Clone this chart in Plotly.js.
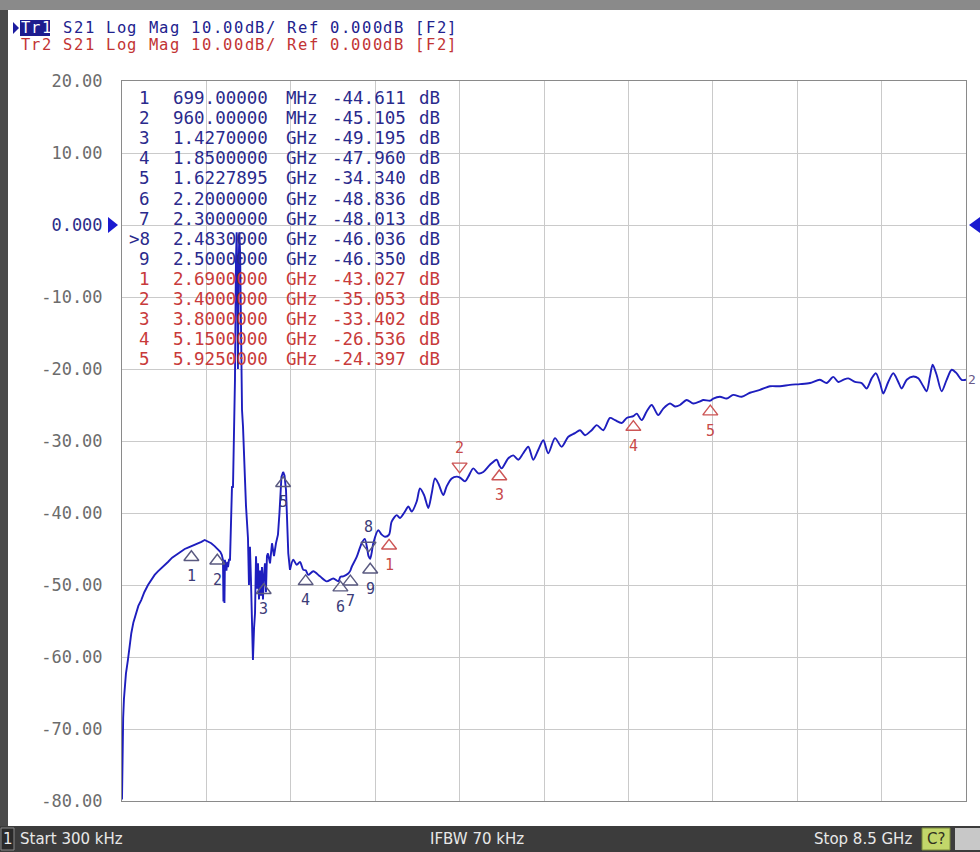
<!DOCTYPE html>
<html><head><meta charset="utf-8">
<script src="https://cdn.plot.ly/plotly-3.0.1.min.js"></script>
<style>html,body{margin:0;padding:0;background:#fff;overflow:hidden}#chart{width:980px;height:852px}</style>
</head><body><div id="chart"></div>
<script>
// ---- data ----
const freqGHz = [0.0003,0.005,0.012,0.020,0.027,0.040,0.060,0.075,0.094,0.115,0.144,0.165,0.194,0.225,0.262,0.295,0.329,0.362,0.396,0.430,0.463,0.505,0.547,0.590,0.632,0.665,0.699,0.733,0.766,0.800,0.833,0.866,0.899,0.933,0.967,0.990,1.005,1.017,1.022,1.027,1.032,1.037,1.042,1.052,1.060,1.068,1.078,1.088,1.098,1.108,1.118,1.128,1.138,1.148,1.155,1.162,1.168,1.175,1.182,1.190,1.198,1.209,1.219,1.229,1.239,1.249,1.259,1.269,1.279,1.289,1.299,1.309,1.319,1.330,1.340,1.350,1.360,1.370,1.380,1.390,1.400,1.410,1.420,1.427,1.440,1.450,1.460,1.470,1.491,1.511,1.531,1.551,1.571,1.586,1.606,1.623,1.637,1.652,1.662,1.675,1.692,1.725,1.760,1.793,1.826,1.850,1.876,1.927,1.994,2.062,2.128,2.179,2.200,2.229,2.279,2.300,2.313,2.364,2.414,2.445,2.470,2.483,2.500,2.515,2.531,2.581,2.616,2.649,2.690,2.716,2.767,2.800,2.850,2.884,2.918,2.968,3.001,3.042,3.085,3.119,3.152,3.186,3.236,3.270,3.321,3.371,3.400,3.455,3.488,3.538,3.588,3.639,3.706,3.774,3.800,3.824,3.891,3.941,3.991,4.041,4.092,4.142,4.192,4.243,4.293,4.361,4.428,4.495,4.562,4.613,4.663,4.730,4.781,4.847,4.915,4.965,5.033,5.083,5.150,5.184,5.234,5.284,5.335,5.401,5.451,5.519,5.569,5.620,5.687,5.754,5.821,5.854,5.925,5.955,6.022,6.090,6.156,6.241,6.324,6.425,6.526,6.627,6.727,6.828,6.929,7.029,7.097,7.163,7.214,7.264,7.314,7.382,7.449,7.500,7.550,7.593,7.634,7.667,7.717,7.768,7.818,7.852,7.903,7.969,8.019,8.070,8.104,8.137,8.164,8.204,8.255,8.305,8.356,8.406,8.456,8.500];
const s21dB = [-79.8,-71.0,-68.5,-65.8,-64.1,-62.3,-60.4,-58.5,-56.7,-55.2,-53.9,-52.9,-52.1,-51.0,-50.0,-49.3,-48.6,-48.1,-47.7,-47.2,-46.8,-46.2,-45.8,-45.3,-45.0,-44.8,-44.6,-44.5,-44.2,-44.0,-43.75,-44.0,-44.2,-44.6,-45.1,-45.4,-45.8,-46.5,-52.3,-47.0,-52.5,-46.5,-47.5,-48.0,-46.8,-47.5,-46.5,-46.5,-41.0,-36.3,-36.5,-29.4,-21.5,-5.0,-1.0,-8.0,-20.0,-6.0,-1.0,-4.0,-15.0,-25.7,-28.0,-33.0,-35.4,-39.0,-41.0,-43.5,-50.0,-44.7,-49.3,-55.0,-60.4,-56.0,-53.9,-46.0,-50.5,-47.0,-52.0,-48.0,-51.5,-47.5,-52.0,-49.2,-47.0,-51.0,-46.0,-45.6,-47.0,-44.2,-46.0,-44.2,-43.0,-40.0,-35.0,-34.3,-34.8,-36.8,-41.0,-45.6,-47.9,-46.5,-47.2,-46.8,-47.9,-47.96,-48.6,-48.1,-48.8,-49.5,-49.1,-49.5,-48.84,-48.8,-48.4,-48.0,-47.5,-46.1,-44.2,-43.6,-45.0,-46.0,-46.35,-45.5,-44.2,-42.4,-43.0,-43.3,-43.0,-41.2,-40.3,-40.7,-39.8,-39.1,-39.8,-38.4,-36.6,-37.5,-39.3,-37.3,-35.2,-35.9,-37.5,-36.3,-35.2,-34.95,-35.05,-35.6,-34.95,-33.8,-34.5,-34.3,-33.3,-32.6,-33.4,-33.8,-32.4,-32.0,-32.6,-31.7,-30.8,-32.6,-31.25,-29.9,-31.7,-29.6,-30.8,-29.4,-28.9,-28.5,-29.2,-28.5,-27.8,-28.5,-26.8,-27.1,-27.5,-26.8,-26.54,-26.2,-27.1,-25.9,-25.0,-26.4,-25.5,-24.8,-25.2,-25.0,-24.3,-24.8,-24.5,-24.3,-24.4,-24.1,-23.85,-24.1,-23.6,-23.85,-23.3,-22.9,-22.4,-22.4,-22.2,-22.1,-21.95,-21.5,-21.95,-21.1,-21.8,-21.5,-21.3,-21.8,-21.95,-22.7,-21.3,-20.6,-21.95,-23.4,-21.8,-20.6,-21.8,-22.7,-21.5,-21.05,-21.3,-22.4,-23.1,-21.05,-19.4,-20.8,-23.1,-21.5,-20.1,-20.6,-21.5,-21.5];

const mk1Label = ['1','2','3','4','5','6','7','8','9'];
const mk1Freq  = [0.699, 0.960, 1.427, 1.850, 1.6227895, 2.200, 2.300, 2.483, 2.500];
const mk1Val   = [-44.611, -45.105, -49.195, -47.960, -34.340, -48.836, -48.013, -46.036, -46.350];
const mk2Label = ['1','2','3','4','5'];
const mk2Freq  = [2.690, 3.400, 3.800, 5.150, 5.925];
const mk2Val   = [-43.027, -35.053, -33.402, -26.536, -24.397];
const active1 = 7, active2 = 1;          // active markers (>8 and red 2)
const above1 = [7], above2 = [1];        // markers whose flag sits above the trace

const yTickVals = [20,10,0,-10,-20,-30,-40,-50,-60,-70,-80];
const yTickText = ['20.00','10.00','0.000','-10.00','-20.00','-30.00','-40.00','-50.00','-60.00','-70.00','-80.00'];
const startGHz = 0.0003, stopGHz = 8.5, refLevel = 0, nDiv = 10;
const header1 = 'Tr1 S21 Log Mag 10.00dB/ Ref 0.000dB [F2]';
const header2 = 'Tr2 S21 Log Mag 10.00dB/ Ref 0.000dB [F2]';
const statusStart = 'Start 300 kHz', statusIfbw = 'IFBW 70 kHz', statusStop = 'Stop 8.5 GHz';

// ---- layout geometry (pixels) ----
const W = 980, H = 852, L = 122, R = 966, T = 81, B = 801;
const pw = R - L, ph = B - T, pxPerDb = ph / 100;
const PX = p => (p - L) / pw, PY = p => (B - p) / ph;
const NAVY = '#2a2a8c', RED = '#c83a3a', MONO = 'DejaVu Sans Mono, monospace';
const TRACE = '#1e1ebe';

const xTicks = [];
for (let i = 0; i <= nDiv; i++) xTicks.push(startGHz + i * (stopGHz - startGHz) / nDiv);

// the spiky low band is drawn point to point, the rippled upper band smoothly
const split = freqGHz.findIndex(f => f >= 1.69);
const traces = [
  {x: freqGHz.slice(0, split + 1), y: s21dB.slice(0, split + 1), type: 'scatter', mode: 'lines',
   line: {color: TRACE, width: 1.9}, hoverinfo: 'skip'},
  {x: freqGHz.slice(split), y: s21dB.slice(split), type: 'scatter', mode: 'lines',
   line: {color: TRACE, width: 1.9, shape: 'spline', smoothing: 0.8}, hoverinfo: 'skip'}
];

// marker flags on the trace
const flagOff = 11;
function flagTrace(freqs, vals, aboveIdx, color) {
  const ys = vals.map((v, i) => aboveIdx.includes(i) ? v + flagOff / pxPerDb : v - flagOff / pxPerDb);
  const sym = vals.map((v, i) => aboveIdx.includes(i) ? 'triangle-down-open' : 'triangle-up-open');
  return {x: freqs, y: ys, type: 'scatter', mode: 'markers', cliponaxis: false, hoverinfo: 'skip',
    marker: {symbol: sym, size: 13, color: color, line: {width: 1.4, color: color}}};
}
traces.push(flagTrace(mk1Freq, mk1Val, above1, '#5a5a80'));
traces.push(flagTrace(mk2Freq, mk2Val, above2, '#cc5555'));

// bottom marker triangles
const botY = -80 - 9 / pxPerDb;
traces.push({x: mk1Freq, y: mk1Freq.map(() => botY), type: 'scatter', mode: 'markers', cliponaxis: false, hoverinfo: 'skip',
  marker: {symbol: mk1Freq.map((f, i) => i === active1 ? 'triangle-up' : 'triangle-up-open'), size: 14,
           color: mk1Freq.map((f, i) => i === active1 ? '#1414d8' : '#4a4aa8'), line: {width: 1.3, color: '#4a4aa8'}}});
traces.push({x: mk2Freq, y: mk2Freq.map(() => botY), type: 'scatter', mode: 'markers', cliponaxis: false, hoverinfo: 'skip',
  marker: {symbol: mk2Freq.map((f, i) => i === active2 ? 'triangle-up' : 'triangle-up-open'), size: 14,
           color: mk2Freq.map((f, i) => i === active2 ? '#e01818' : '#d06a6a'), line: {width: 1.3, color: '#d06a6a'}}});

const ann = [];
function flagLabels(labels, freqs, vals, aboveIdx, color) {
  labels.forEach((lab, i) => {
    const up = aboveIdx.includes(i);
    ann.push({x: freqs[i], y: vals[i], xref: 'x', yref: 'y', text: lab, showarrow: false,
      yshift: up ? 29 : -30, font: {family: MONO, size: 15, color: color}});
  });
}
flagLabels(mk1Label, mk1Freq, mk1Val, above1, '#3c3c78');
flagLabels(mk2Label, mk2Freq, mk2Val, above2, '#c84a4a');

// marker table
function fmtF(f) { return f < 1 ? [(f * 1000).toFixed(5), 'MHz'] : [f.toFixed(7), 'GHz']; }
const tblFont = 17.5, rowH = 20.1, row0 = 98;
let row = 0;
function tableRow(num, f, v, color, isActive) {
  const y = PY(row0 + rowH * row);
  const [fs, unit] = fmtF(f);
  const base = {xref: 'paper', yref: 'paper', y: y, yanchor: 'middle', showarrow: false, font: {family: MONO, size: tblFont, color: color}};
  ann.push(Object.assign({}, base, {x: PX(152), xanchor: 'right', text: (isActive ? '>' : '') + num}));
  ann.push(Object.assign({}, base, {x: PX(171), xanchor: 'left', text: fs}));
  ann.push(Object.assign({}, base, {x: PX(284), xanchor: 'left', text: unit}));
  ann.push(Object.assign({}, base, {x: PX(330), xanchor: 'left', text: v.toFixed(3)}));
  ann.push(Object.assign({}, base, {x: PX(417), xanchor: 'left', text: 'dB'}));
  row++;
}
mk1Label.forEach((n, i) => tableRow(n, mk1Freq[i], mk1Val[i], NAVY, i === active1));
mk2Label.forEach((n, i) => tableRow(n, mk2Freq[i], mk2Val[i], RED, false));

// header: characters laid on the instrument's fixed pitch
const pitch = 10.66;
function headerLine(str, x0, yc, colorFn) {
  for (let i = 0; i < str.length; i++) {
    if (str[i] === ' ') continue;
    ann.push({xref: 'paper', yref: 'paper', x: PX(x0 + i * pitch + pitch / 2), y: PY(yc), xanchor: 'center', yanchor: 'middle',
      showarrow: false, text: str[i], font: {family: MONO, size: 15.5, color: colorFn(i)}});
  }
}
headerLine(header1, 20, 28, i => i < 3 ? '#ffffff' : '#22228e');
headerLine(header2, 20, 45, i => '#c23434');

// status bar text
const sb = {xref: 'paper', yref: 'paper', y: PY(839), yanchor: 'middle', showarrow: false,
  font: {family: 'DejaVu Sans, sans-serif', size: 15, color: '#e8e8e8'}};
ann.push(Object.assign({}, sb, {x: PX(7.5), xanchor: 'center', text: '1'}));
ann.push(Object.assign({}, sb, {x: PX(18), xanchor: 'left', text: statusStart}));
ann.push(Object.assign({}, sb, {x: PX(428), xanchor: 'left', text: statusIfbw}));
ann.push(Object.assign({}, sb, {x: PX(812), xanchor: 'left', text: statusStop}));
ann.push(Object.assign({}, sb, {x: PX(936), xanchor: 'center', text: 'C?', font: Object.assign({}, sb.font, {color: '#303020'})}));

// trace end label
ann.push({xref: 'x', yref: 'y', x: freqGHz[freqGHz.length - 1], y: s21dB[s21dB.length - 1], xanchor: 'left', yanchor: 'middle',
  xshift: 0, showarrow: false, text: '2', font: {family: MONO, size: 13, color: '#6a5a8a'}});

const refPx = B - (refLevel + 80) * pxPerDb;
function tri(pts) { return 'M' + pts.map(p => PX(p[0]) + ',' + PY(p[1])).join('L') + 'Z'; }
const shapes = [
  {type: 'rect', xref: 'paper', yref: 'paper', x0: PX(0), x1: PX(W), y0: PY(826), y1: PY(H), fillcolor: '#3c3c3c', line: {width: 0}, layer: 'below'},
  {type: 'rect', xref: 'paper', yref: 'paper', x0: PX(1), x1: PX(14), y0: PY(828), y1: PY(850), fillcolor: '#2a2a2a', line: {width: 1, color: '#888'}},
  {type: 'rect', xref: 'paper', yref: 'paper', x0: PX(922), x1: PX(950), y0: PY(828), y1: PY(850), fillcolor: '#c2d66a', line: {width: 1, color: '#7a8a3a'}},
  {type: 'rect', xref: 'paper', yref: 'paper', x0: PX(955), x1: PX(W), y0: PY(828), y1: PY(850), fillcolor: '#c8c8c8', line: {width: 0}},
  {type: 'rect', xref: 'paper', yref: 'paper', x0: PX(0), x1: PX(8), y0: PY(0), y1: PY(826), fillcolor: '#4a4a4a', line: {width: 0}, layer: 'below'},
  {type: 'rect', xref: 'paper', yref: 'paper', x0: PX(0), x1: PX(W), y0: PY(0), y1: PY(10), fillcolor: '#8a8a8a', line: {width: 0}, layer: 'below'},
  {type: 'rect', xref: 'paper', yref: 'paper', x0: PX(20), x1: PX(50), y0: PY(20), y1: PY(36), fillcolor: '#1c1c8e', line: {width: 0}, layer: 'below'},
  {type: 'path', xref: 'paper', yref: 'paper', path: tri([[13, 22], [19, 28], [13, 34]]), fillcolor: '#1c1ca0', line: {width: 0}},
  {type: 'path', xref: 'paper', yref: 'paper', path: tri([[108, refPx - 8], [118, refPx], [108, refPx + 8]]), fillcolor: '#1a1ad0', line: {width: 0}},
  {type: 'path', xref: 'paper', yref: 'paper', path: tri([[980, refPx - 8], [969, refPx], [980, refPx + 8]]), fillcolor: '#1a1ad0', line: {width: 0}}
];

const layout = {
  width: W, height: H, margin: {l: L, r: W - R, t: T, b: H - B},
  paper_bgcolor: '#ffffff', plot_bgcolor: '#ffffff', showlegend: false,
  xaxis: {range: [startGHz, stopGHz], tickvals: xTicks, showticklabels: false, ticks: '', showgrid: true,
          gridcolor: '#cacaca', gridwidth: 1, zeroline: false, showline: true, mirror: true, linecolor: '#8a8a8a', linewidth: 1, fixedrange: true},
  yaxis: {range: [-80, 20], tickvals: yTickVals,
          ticktext: yTickText.map((t, i) => yTickVals[i] === refLevel ? '<span style="color:#2c2c8a">' + t + '</span>' : t),
          ticks: 'outside', ticklen: 15, tickcolor: 'rgba(0,0,0,0)', showgrid: true, gridcolor: '#cacaca', zeroline: false,
          showline: true, mirror: true, linecolor: '#8a8a8a', linewidth: 1, fixedrange: true,
          tickfont: {family: MONO, size: 17, color: '#6c6c6c'}},
  annotations: ann, shapes: shapes
};
Plotly.newPlot('chart', traces, layout, {staticPlot: true, displayModeBar: false});
</script></body></html>
